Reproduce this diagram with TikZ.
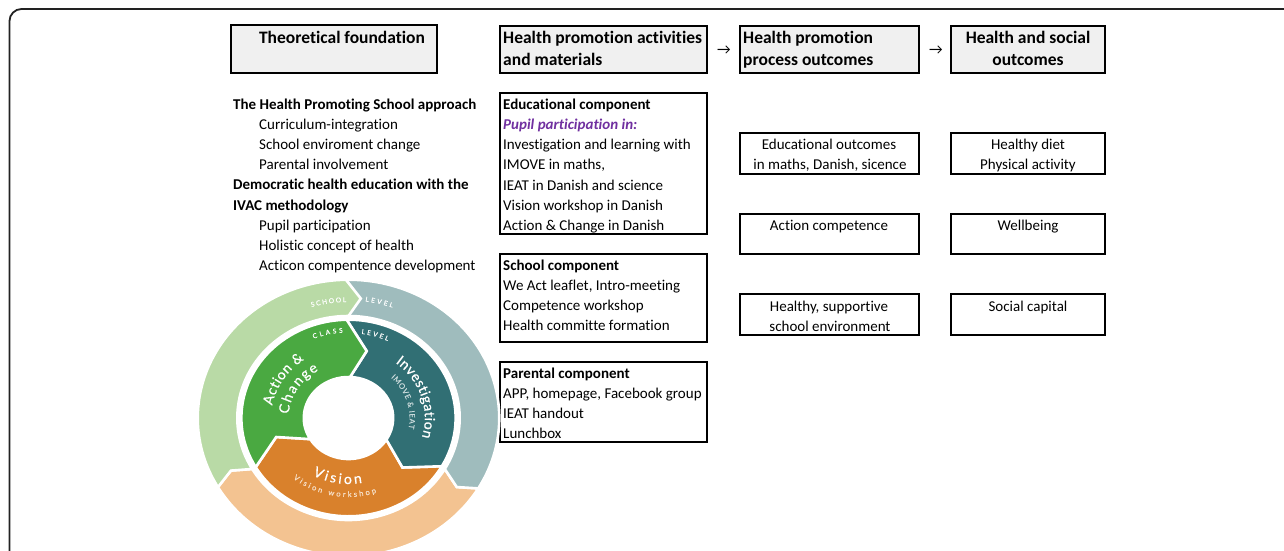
\documentclass[tikz,border=0pt]{standalone}
\usepackage{fontspec}
\setmainfont[Ligatures={NoCommon}]{Carlito}
\newfontfamily\wheelfont[FakeBold=0.5]{Lato}
\newfontfamily\wheelfontb[FakeBold=0.3]{Lato}
\usetikzlibrary{decorations.text}
\definecolor{frameC}{HTML}{222222}
\definecolor{headC}{HTML}{F0F0F0}
\definecolor{purpleC}{HTML}{7030A0}
\definecolor{lgreen}{HTML}{B9DAA6}
\definecolor{lblue}{HTML}{9FBCBD}
\definecolor{lorange}{HTML}{F3C391}
\definecolor{dgreen}{HTML}{4AA941}
\definecolor{dteal}{HTML}{316F74}
\definecolor{dorange}{HTML}{D9812C}
\definecolor{paleT}{HTML}{C9DADB}
\definecolor{paleO}{HTML}{F7E0C8}
\tikzset{
 x=1pt,y=-1pt,
 headbox/.style={draw=black,line width=2pt,fill=headC},
 plainbox/.style={draw=black,line width=1.8pt,fill=white},
 txt/.style={font=\fontsize{15}{20}\selectfont,anchor=base west,inner sep=0pt,text=black},
 ctxt/.style={txt,anchor=base},
 htxt/.style={font=\fontsize{17.5}{22}\selectfont\bfseries,anchor=base west,inner sep=0pt,text=black},
 chtxt/.style={htxt,anchor=base},
 wseg/.style={draw=white,line width=2.6pt,line join=miter},
}
% polar point on the stretched wheel: angle, radius
\def\PP#1#2{({1.09*(#2)*cos(#1)},{-(#2)*sin(#1)})}
\def\ARC#1#2#3{arc[start angle=#1,end angle=#2,x radius=1.09*#3 pt,y radius=#3 pt]}
% text along an arc: colour, start angle, end angle, radius, font, text
\newcommand\arclabel[6]{\path[decorate,decoration={text along path,text color=#1,text align=fit to path,text={|#5|#6}}] \PP{#2}{#4} \ARC{#2}{#3}{#4};}
\def\wbig{\wheelfont\fontsize{14}{16}\selectfont}
\def\wsmall{\wheelfontb\fontsize{7.6}{9}\selectfont}
\def\wcaps{\wheelfontb\fontsize{6.6}{8}\selectfont}
\begin{document}
\begin{tikzpicture}
\useasboundingbox (0,0) rectangle (1284,551);
\clip (0,0) rectangle (1284,551);
\fill[white] (0,0) rectangle (1284,551);
% frame
\draw[frameC,line width=1.8pt,rounded corners=12pt] (9.5,570) -- (9.5,9) -- (1310,9) -- (1310,570);
% header boxes
\draw[headbox] (230.5,25.5) rectangle (437,73);
\draw[headbox] (500,26) rectangle (707,72.5);
\draw[headbox] (740,26) rectangle (919,72.5);
\draw[headbox] (951,26) rectangle (1105,72.5);
\node[chtxt] (h1) at (342,44) {Theoretical foundation};
\node[htxt] (h2a) at (503,44) {Health promotion activities};
\node[htxt] (h2b) at (503,66) {and materials};
\node[htxt] (h3a) at (743,44) {Health promotion};
\node[htxt] (h3b) at (743,66) {process outcomes};
\node[chtxt] (h4a) at (1028,44) {Health and social};
\node[chtxt] (h4b) at (1028,66) {outcomes};
\node[font=\fontsize{15}{15}\selectfont,inner sep=0pt] (ar1) at (724,50) {→};
\node[font=\fontsize{15}{15}\selectfont,inner sep=0pt] (ar2) at (936,50) {→};
% left text
\foreach \n/\x/\y/\t in {a/233/109/{\textbf{The Health Promoting School approach}},
 b/259/129/{Curriculum-integration},
 c/259/149/{School enviroment change},
 d/259/169/{Parental involvement},
 e/233/189/{\textbf{Democratic health education with the}},
 f/233/210/{\textbf{IVAC methodology}},
 g/259/230/{Pupil participation},
 h/259/250/{Holistic concept of health},
 i/259/270/{Acticon compentence development}}
 {\node[txt] (l\n) at (\x,\y) {\t};}
% activity boxes
\draw[plainbox] (500,93) rectangle (707,234);
\draw[plainbox] (500,254) rectangle (707,342);
\draw[plainbox] (500,362) rectangle (707,442);
\foreach \n/\y/\t in {a/109/{\textbf{Educational component}},
 b/129/{\textcolor{purpleC}{\textbf{\textit{Pupil participation in:}}}},
 c/149/{Investigation and learning with},
 d/169/{IMOVE in maths,},
 e/190/{IEAT in Danish and science},
 f/210/{Vision workshop in Danish},
 g/230/{Action \& Change in Danish},
 h/270/{\textbf{School component}},
 i/290/{We Act leaflet, Intro-meeting},
 j/310/{Competence workshop},
 k/330/{Health committe formation},
 m/378/{\textbf{Parental component}},
 n/398/{APP, homepage, Facebook group},
 o/418/{IEAT handout},
 p/438/{Lunchbox}}
 {\node[txt] (m\n) at (503,\y) {\t};}
% outcome boxes
\draw[plainbox] (740,133) rectangle (919,174);
\draw[plainbox] (740,214) rectangle (919,254);
\draw[plainbox] (740,294) rectangle (919,335);
\draw[plainbox] (951,133) rectangle (1105,174);
\draw[plainbox] (951,214) rectangle (1105,254);
\draw[plainbox] (951,294) rectangle (1105,335);
\foreach \n/\x/\y/\t in {a/829/149/{Educational outcomes},
 b/830/169/{in maths, Danish, sicence},
 c/829/230/{Action competence},
 d/829/311/{Healthy, supportive},
 e/830/331/{school environment},
 f/1028/149/{Healthy diet},
 g/1028/169/{Physical activity},
 h/1028/230/{Wellbeing},
 i/1028/311/{Social capital}}
 {\node[ctxt] (o\n) at (\x,\y) {\t};}
% wheel
\begin{scope}[shift={(348.5,418)}]
 % outer ring
 \fill[lorange,wseg] \PP{-30.6}{138.3} -- \PP{-34.8}{121} -- \PP{-30}{102} \ARC{-30}{-150}{102} -- \PP{-154}{120} -- \PP{-150}{138.3} \ARC{-150}{-30.6}{138.3} -- cycle;
 \fill[lblue,wseg] \PP{91}{138.3} -- \PP{85}{120} -- \PP{91}{102} \ARC{91}{-30}{102} -- \PP{-34.8}{121} -- \PP{-30.6}{138.3} \ARC{-30.6}{91}{138.3} -- cycle;
 \fill[lgreen,wseg] \PP{91}{138.3} -- \PP{84.6}{120} -- \PP{90}{102} \ARC{90}{210}{102} -- \PP{206}{120} -- \PP{210}{138.3} \ARC{210}{91}{138.3} -- cycle;
 % inner ring
 \fill[dorange,wseg] \PP{210}{98.3} -- \PP{196}{69} -- \PP{211}{41} \ARC{211}{328}{41} -- \PP{-45}{70} -- \PP{-29.4}{98.3} \ARC{330.6}{210}{98.3} -- cycle;
 \fill[dteal,wseg] \PP{91}{98.3} -- \PP{76}{69} -- \PP{88}{41} \ARC{88}{-32}{41} -- \PP{-45}{70} -- \PP{-29.4}{98.3} \ARC{-29.4}{91}{98.3} -- cycle;
 \fill[dgreen,wseg] \PP{91}{98.3} -- \PP{76}{69} -- \PP{88}{41} \ARC{88}{211}{41} -- \PP{196}{69} -- \PP{210}{98.3} \ARC{210}{91}{98.3} -- cycle;
 % curved labels
 \arclabel{white}{107}{91}{116}{\wcaps}{SCHOOL}
 \arclabel{white}{82.5}{70}{117.5}{\wcaps}{LEVEL}
 \arclabel{white}{112}{93.5}{85.5}{\wcaps}{CLASS}
 \arclabel{white}{82}{65}{85}{\wcaps}{LEVEL}
 \arclabel{white}{170}{125}{71}{\wbig}{Action {\&}}
 \arclabel{white}{176}{120}{55}{\wbig}{Change}
 \arclabel{white}{52}{-16}{70}{\wbig}{Investigation}
 \arclabel{paleT}{46}{-11}{56}{\wsmall}{IMOVE {\&} IEAT}
 \arclabel{white}{240}{281}{66}{\wbig}{Vision}
 \arclabel{paleO}{230}{289}{79}{\wsmall}{Vision workshop}
\end{scope}
\end{tikzpicture}
\end{document}
